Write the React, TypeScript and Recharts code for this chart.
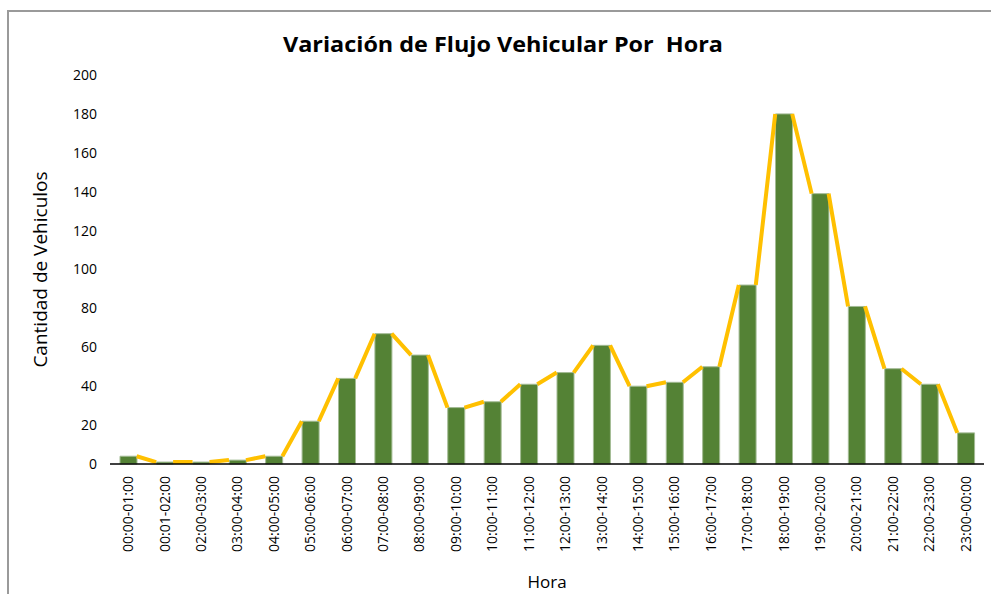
import { Bar, ComposedChart, Line, XAxis, YAxis } from 'recharts'

const hours = [
  '00:00-01:00', '00:01-02:00', '02:00-03:00', '03:00-04:00', '04:00-05:00', '05:00-06:00',
  '06:00-07:00', '07:00-08:00', '08:00-09:00', '09:00-10:00', '10:00-11:00', '11:00-12:00',
  '12:00-13:00', '13:00-14:00', '14:00-15:00', '15:00-16:00', '16:00-17:00', '17:00-18:00',
  '18:00-19:00', '19:00-20:00', '20:00-21:00', '21:00-22:00', '22:00-23:00', '23:00-00:00',
]

const vehicles = [4, 1, 1, 2, 4, 22, 44, 67, 56, 29, 32, 41, 47, 61, 40, 42, 50, 92, 180, 139, 81, 49, 41, 16]

const yTicks = [0, 20, 40, 60, 80, 100, 120, 140, 160, 180, 200]

const FONT = '"Open Sans", "Liberation Sans", sans-serif'
const BAR_SIZE = 17
// half of a bar, in category units (band is ~36.4px wide)
const HALF_BAR = 0.233

const barData = hours.map((hora, i) => ({ hora, cantidad: vehicles[i] }))

// the yellow line runs from the top-right corner of each bar to the top-left corner of the next one
const lineData: { x: number; v: number | null }[] = []
for (let i = 0; i < vehicles.length - 1; i++) {
  lineData.push({ x: i + 0.5 + HALF_BAR, v: vehicles[i] })
  lineData.push({ x: i + 1.5 - HALF_BAR, v: vehicles[i + 1] })
  lineData.push({ x: i + 1.5, v: null })
}

function HourTick({ x, y, payload }: { x?: number; y?: number; payload?: { value: string } }) {
  return (
    <g transform={`translate(${x},${(y ?? 0) + 4}) rotate(-90)`}>
      <text textAnchor="end" dy="0.35em" fill="#000" fontSize={14} fontFamily={FONT}>
        {payload?.value}
      </text>
    </g>
  )
}

export default function App() {
  return (
    <div style={{ position: 'absolute', left: 0, top: 0, width: 991, height: 594, background: '#fff', overflow: 'hidden' }}>
      <div
        style={{
          position: 'absolute',
          left: 7,
          top: 10,
          width: 1000,
          height: 600,
          borderTop: '2px solid #9a9a9a',
          borderLeft: '2px solid #9a9a9a',
        }}
      />
      <svg style={{ position: 'absolute', left: 0, top: 0 }} width={991} height={80}>
        <text
          x={503}
          y={52}
          textAnchor="middle"
          fontSize={22}
          fontWeight="bold"
          fontFamily={FONT}
          textLength={440}
          lengthAdjust="spacingAndGlyphs"
          fill="#000"
          style={{ whiteSpace: 'pre' }}
        >
          Variación de Flujo Vehicular Por  Hora
        </text>
      </svg>
      <div style={{ position: 'absolute', left: 0, top: 0 }}>
        <ComposedChart
          width={991}
          height={594}
          data={barData}
          margin={{ top: 75, right: 7, bottom: 0, left: 0 }}
        >
          <XAxis
            dataKey="hora"
            interval={0}
            height={130}
            tick={<HourTick />}
            tickLine={false}
            axisLine={{ stroke: '#000', strokeWidth: 1.5 }}
            label={{ value: 'Hora', position: 'insideBottom', offset: 6, fill: '#000', fontSize: 17, fontFamily: FONT }}
          />
          <XAxis xAxisId="edge" type="number" dataKey="x" domain={[0, 24]} hide />
          <YAxis
            type="number"
            domain={[0, 200]}
            ticks={yTicks}
            width={110}
            tickSize={5}
            tickMargin={8}
            tickLine={false}
            axisLine={false}
            tick={{ fill: '#000', fontSize: 14, fontFamily: FONT }}
            label={{
              value: 'Cantidad de Vehiculos',
              angle: -90,
              position: 'insideLeft',
              offset: 40,
              fill: '#000',
              fontSize: 19,
              fontFamily: FONT,
              style: { textAnchor: 'middle' },
            }}
          />
          <Line
            xAxisId="edge"
            data={lineData}
            dataKey="v"
            stroke="#FFC000"
            strokeWidth={4}
            dot={false}
            activeDot={false}
            connectNulls={false}
            isAnimationActive={false}
          />
          <Bar
            dataKey="cantidad"
            barSize={BAR_SIZE}
            fill="#548235"
            stroke="#a3bb94"
            strokeWidth={1}
            isAnimationActive={false}
          />
        </ComposedChart>
      </div>
    </div>
  )
}
